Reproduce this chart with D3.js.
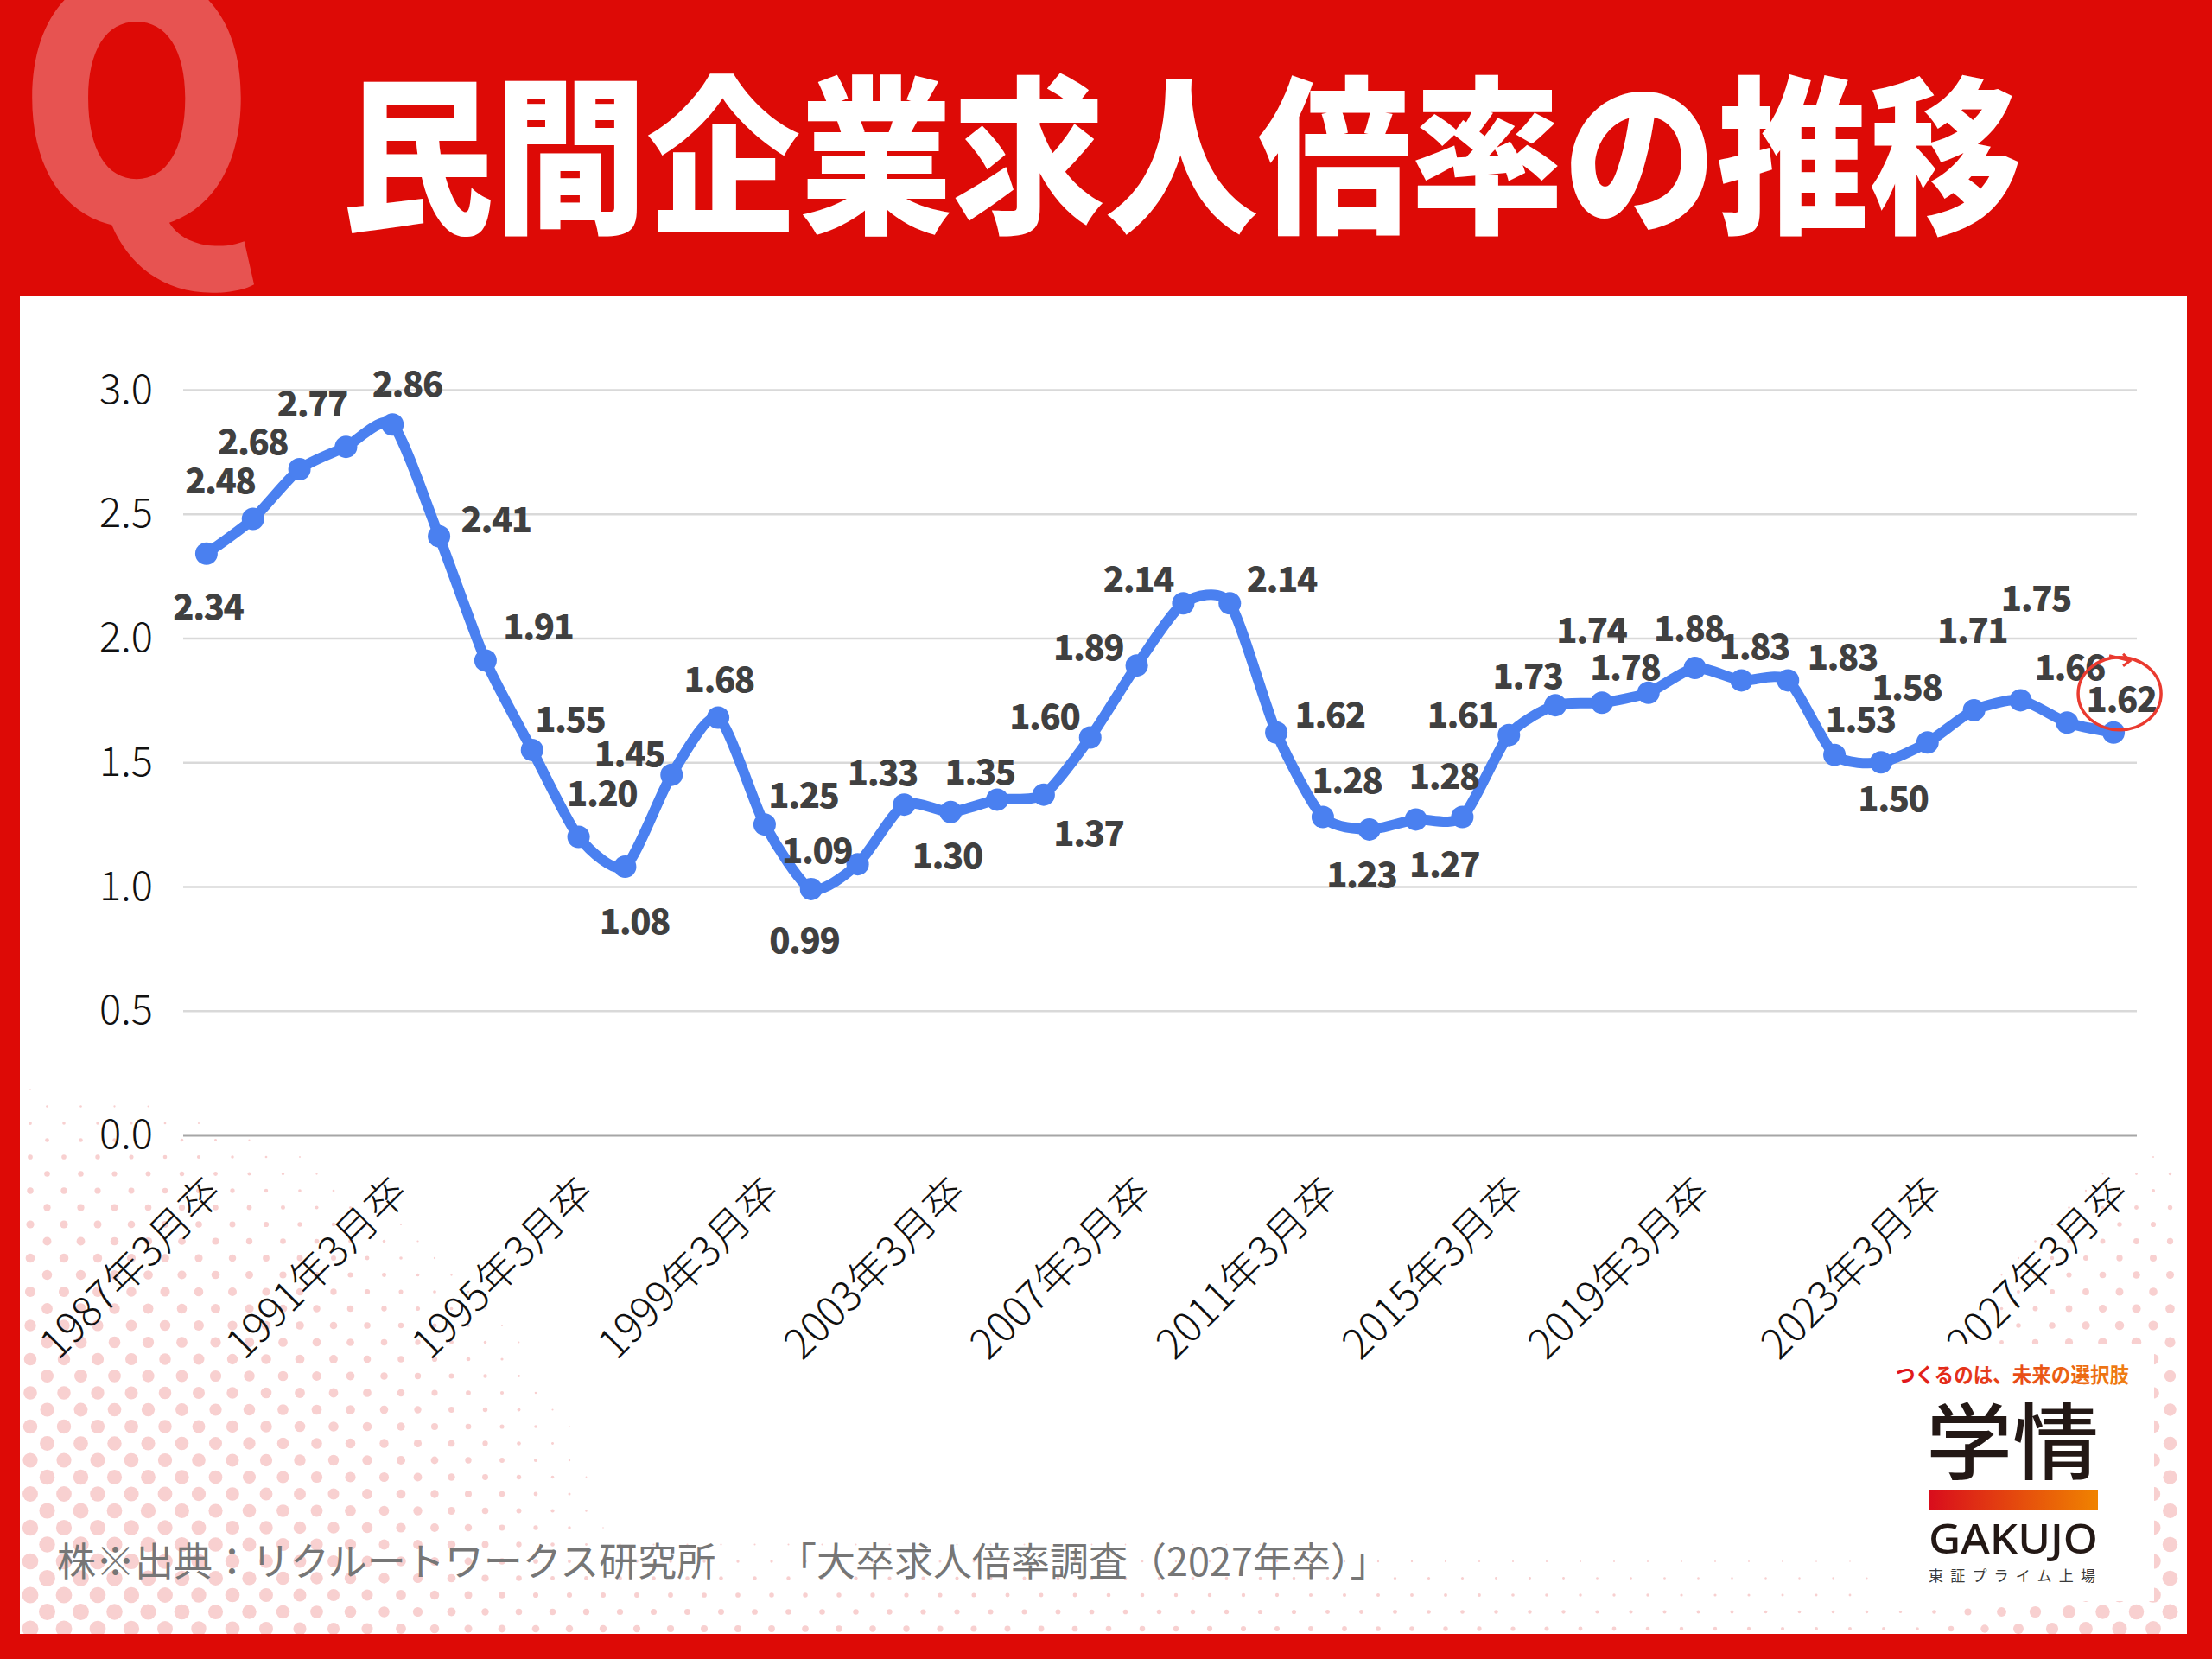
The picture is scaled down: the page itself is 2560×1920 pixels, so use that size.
<html>
<head>
<meta charset="utf-8">
<style>
body { margin: 0; background: #fff; }
text { font-family: "Noto Sans CJK JP", "Noto Sans", sans-serif; }
</style>
</head>
<body>
<svg id="chart" width="2560" height="1920"></svg>
<script src="https://d3js.org/d3.v7.min.js"></script>
<script type="text/javascript">
    // survey years (2021 appears twice in the source chart)
    var years = [1987, 1988, 1989, 1990, 1991, 1992, 1993, 1994, 1995, 1996,
                 1997, 1998, 1999, 2000, 2001, 2002, 2003, 2004, 2005, 2006,
                 2007, 2008, 2009, 2010, 2011, 2012, 2013, 2014, 2015, 2016,
                 2017, 2018, 2019, 2020, 2021, 2021, 2022, 2023, 2024, 2025,
                 2026, 2027];
    var categories = years.map(function (y) { return y + "年3月卒"; });

    var ratios = [2.34, 2.48, 2.68, 2.77, 2.86, 2.41, 1.91, 1.55, 1.20, 1.08,
                  1.45, 1.68, 1.25, 0.99, 1.09, 1.33, 1.30, 1.35, 1.37, 1.60,
                  1.89, 2.14, 2.14, 1.62, 1.28, 1.23, 1.27, 1.28, 1.61, 1.73,
                  1.74, 1.78, 1.88, 1.83, 1.83, 1.53, 1.50, 1.58, 1.71, 1.75,
                  1.66, 1.62];

    // which categories get a tick label
    var tickIndex = [0, 4, 8, 12, 16, 20, 24, 28, 32, 37, 41];
    var yTicks = [0, 0.5, 1.0, 1.5, 2.0, 2.5, 3.0];
    var highlightIndex = 41;

    // data label nudges relative to the marker (label centre)
    var labelNudge = [
        [2, 59], [-38, -47], [-54, -34], [-39, -52], [17, -49], [66, -22], [61, -41],
        [44, -38], [27, -53], [11, 61], [-49, -27], [1, -47], [45, -36], [-8, 57],
        [-47, -18], [-25, -39], [-4, 48], [-20, -34], [52, 42], [-53, -27], [-56, -23],
        [-52, -30], [60, -30], [62, -23], [28, -45], [-9, 50], [33, 50], [-21, -50],
        [-54, -26], [-32, -36], [-12, -86], [-27, -32], [-7, -48], [15, -41], [63, -29],
        [30, -44], [14, 40], [-24, -66], [-2, -95], [18, -120], [3, -66], [9, -41]
    ];

    var W = 2560, H = 1920;
    var red = "#dd0a06";
    var svg = d3.select("#chart");
    var defs = svg.append("defs");

    // frame
    svg.append("rect").attr("width", W).attr("height", H).attr("fill", red);
    var panel = { x: 23, y: 342, w: 2508, h: 1549 };
    svg.append("rect")
        .attr("x", panel.x).attr("y", panel.y)
        .attr("width", panel.w).attr("height", panel.h)
        .attr("fill", "#fff");

    defs.append("clipPath").attr("id", "panelClip")
        .append("rect")
        .attr("x", panel.x).attr("y", panel.y)
        .attr("width", panel.w).attr("height", panel.h);

    // halftone dots in the bottom corners
    var dots = [];
    var bottom = panel.y + panel.h, left = panel.x, right = panel.x + panel.w;
    for (var row = 0; row * 19.5 < 760; row++) {
        var yy = bottom - 6 - row * 19.5;
        var off = (row % 2) ? 19.5 : 0;
        for (var xx = left + 12 + off; xx < right; xx += 39) {
            var h = bottom - yy, dl = xx - left, dr = right - xx;
            var a = 9.5 * (1 - (Math.pow(dl / 720, 2) + Math.pow(h / 660, 2)));
            var b = 5.5 * (1 - h / 140) * (1 - dl / 3400);
            var c = 9 * (1 - (Math.pow(dr / 340, 2) + Math.pow(h / 590, 2)));
            var r = Math.max(a, b, c);
            if (r > 0.8) dots.push([xx, yy, r]);
        }
    }
    svg.append("g").attr("clip-path", "url(#panelClip)")
        .selectAll("circle").data(dots).enter().append("circle")
        .attr("cx", function (d) { return d[0]; })
        .attr("cy", function (d) { return d[1]; })
        .attr("r", function (d) { return d[2]; })
        .attr("fill", "#f8d0d0");

    // header
    svg.append("text")
        .attr("x", 158).attr("y", 258)
        .attr("text-anchor", "middle")
        .attr("transform", "translate(158,0) scale(0.92,1) translate(-158,0)")
        .style("font-size", "385px")
        .style("font-weight", 900)
        .attr("fill", "#fff").attr("fill-opacity", 0.3)
        .text("Q");

    svg.append("text")
        .attr("x", 395).attr("y", 254)
        .attr("textLength", 1945).attr("lengthAdjust", "spacingAndGlyphs")
        .style("font-size", "196px")
        .style("font-weight", 900)
        .attr("fill", "#fff")
        .text("民間企業求人倍率の推移");

    // chart
    var x = d3.scalePoint()
        .domain(d3.range(ratios.length))
        .range([212, 2473])
        .padding(0.5);
    var y = d3.scaleLinear().domain([0, 3]).range([1313.5, 451]);

    var yAxis = d3.axisLeft(y).tickValues(yTicks)
        .tickSize(-(2473 - 212)).tickPadding(35)
        .tickFormat(d3.format(".1f"));
    var gy = svg.append("g").attr("transform", "translate(212,0)").call(yAxis);
    gy.select(".domain").remove();
    gy.selectAll(".tick line")
        .attr("stroke", function (d) { return d === 0 ? "#a6a6a6" : "#d9d9d9"; })
        .attr("stroke-width", function (d) { return d === 0 ? 3 : 2.5; });
    gy.selectAll(".tick text")
        .attr("fill", "#111")
        .style("font-size", "47px")
        .style("font-weight", 300)
        .style("font-family", "\"Noto Sans CJK JP\", sans-serif");

    // x tick labels, rotated like the spreadsheet axis
    svg.append("g").selectAll("text").data(tickIndex).enter().append("text")
        .attr("transform", function (i) {
            return "translate(" + (x(i) + 6) + ",1368) rotate(-45)";
        })
        .attr("text-anchor", "end")
        .attr("dominant-baseline", "central")
        .attr("fill", "#111")
        .style("font-size", "48px")
        .style("font-weight", 300)
        .text(function (i) { return categories[i]; });

    var line = d3.line()
        .x(function (d, i) { return x(i); })
        .y(function (d) { return y(d); })
        .curve(d3.curveCardinal.tension(0.3));

    svg.append("path")
        .datum(ratios)
        .attr("d", line)
        .attr("fill", "none")
        .attr("stroke", "#4a80f0")
        .attr("stroke-width", 12)
        .attr("stroke-linejoin", "round")
        .attr("stroke-linecap", "round");

    svg.append("g").selectAll("circle").data(ratios).enter().append("circle")
        .attr("cx", function (d, i) { return x(i); })
        .attr("cy", function (d) { return y(d); })
        .attr("r", 13)
        .attr("fill", "#4a80f0");

    svg.append("g").selectAll("text").data(ratios).enter().append("text")
        .attr("x", function (d, i) { return x(i) + labelNudge[i][0]; })
        .attr("y", function (d, i) { return y(d) + labelNudge[i][1]; })
        .attr("text-anchor", "middle")
        .attr("dominant-baseline", "central")
        .attr("fill", "#404040")
        .style("font-size", "40px")
        .style("font-weight", 900)
        .style("letter-spacing", "-1.5px")
        .text(function (d) { return d3.format(".2f")(d); });

    // hand drawn circle around the latest value
    var hx = x(highlightIndex) + labelNudge[highlightIndex][0] - 2;
    var hy = y(ratios[highlightIndex]) + labelNudge[highlightIndex][1] - 4;
    svg.append("ellipse")
        .attr("cx", hx).attr("cy", hy).attr("rx", 48).attr("ry", 42)
        .attr("fill", "none").attr("stroke", "#ea3a2f").attr("stroke-width", 3.5);
    svg.append("path")
        .attr("d", "M" + (hx - 12) + "," + (hy - 44) + " L" + (hx + 12) + "," + (hy - 38)
            + " M" + (hx + 4) + "," + (hy - 46) + " L" + (hx + 12) + "," + (hy - 38)
            + " L" + (hx + 4) + "," + (hy - 32))
        .attr("fill", "none").attr("stroke", "#ea3a2f").attr("stroke-width", 3);

    // source note
    svg.append("text")
        .attr("x", 66).attr("y", 1804)
        .attr("dominant-baseline", "central")
        .attr("fill", "#767676")
        .style("font-size", "45px")
        .text("株※出典：リクルートワークス研究所");
    svg.append("text")
        .attr("x", 900).attr("y", 1804)
        .attr("dominant-baseline", "central")
        .attr("fill", "#767676")
        .style("font-size", "45px")
        .text("「大卒求人倍率調査（2027年卒）」");

    // logo block
    var grad = defs.append("linearGradient").attr("id", "brand")
        .attr("gradientUnits", "userSpaceOnUse")
        .attr("x1", 2195).attr("x2", 2463).attr("y1", 0).attr("y2", 0);
    grad.append("stop").attr("offset", 0).attr("stop-color", "#e0141b");
    grad.append("stop").attr("offset", 1).attr("stop-color", "#ef7f12");
    var grad2 = defs.append("linearGradient").attr("id", "brandBar")
        .attr("gradientUnits", "userSpaceOnUse")
        .attr("x1", 2233).attr("x2", 2428).attr("y1", 0).attr("y2", 0);
    grad2.append("stop").attr("offset", 0).attr("stop-color", "#d90d1c");
    grad2.append("stop").attr("offset", 1).attr("stop-color", "#f08300");

    svg.append("rect").attr("x", 2178).attr("y", 1556)
        .attr("width", 315).attr("height", 297).attr("fill", "#fff");
    svg.append("text")
        .attr("x", 2194).attr("y", 1600)
        .attr("textLength", 270).attr("lengthAdjust", "spacingAndGlyphs")
        .attr("fill", "url(#brand)")
        .style("font-size", "24px").style("font-weight", 700)
        .text("つくるのは、未来の選択肢");
    svg.append("text")
        .attr("x", 2229).attr("y", 1704)
        .attr("textLength", 200).attr("lengthAdjust", "spacingAndGlyphs")
        .attr("fill", "#231815")
        .style("font-size", "96px").style("font-weight", 500)
        .text("学情");
    svg.append("rect").attr("x", 2233).attr("y", 1724)
        .attr("width", 195).attr("height", 24).attr("fill", "url(#brandBar)");
    svg.append("text")
        .attr("x", 2232).attr("y", 1798)
        .attr("textLength", 196).attr("lengthAdjust", "spacingAndGlyphs")
        .attr("fill", "#231815")
        .style("font-family", "\"Noto Sans\", sans-serif")
        .style("font-size", "48px").style("font-weight", 500)
        .text("GAKUJO");
    svg.append("text")
        .attr("x", 2232).attr("y", 1830)
        .attr("textLength", 193).attr("lengthAdjust", "spacing")
        .attr("fill", "#3a3a3a")
        .style("font-size", "17px")
        .text("東証プライム上場");
</script>
</body>
</html>
